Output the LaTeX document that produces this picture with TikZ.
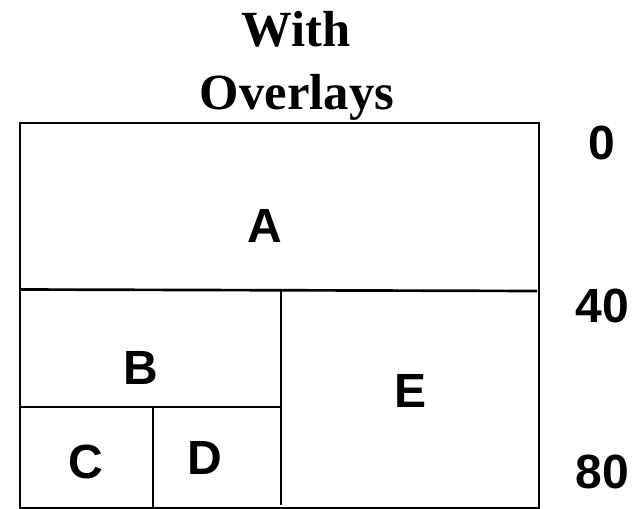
\documentclass[tikz,border=0pt]{standalone}
\usepackage{fontspec}
\setmainfont{Liberation Serif}
\setsansfont{Liberation Sans}
\usetikzlibrary{positioning}

\begin{document}
\begin{tikzpicture}[
  x=0.75pt, y=-0.75pt,
  title/.style={font=\bfseries\fontsize{38}{44}\selectfont, inner sep=0pt, anchor=base},
  part/.style={font=\sffamily\bfseries\fontsize{36}{40}\selectfont, inner sep=0pt},
  rowlabel/.style={font=\sffamily\bfseries\fontsize{36}{40}\selectfont, inner sep=0pt},
  divider/.style={line width=2pt}
]
  \useasboundingbox (0,0) rectangle (641,509);

  % Title
  \node[title] (with) at (296,47) {With};
  \node[title] (overlays) at (297,110) {Overlays};

  % Frame
  \coordinate (nw) at (20,123);
  \coordinate (se) at (539,508);
  \draw[divider] (nw) rectangle (se);

  % Dividers
  \coordinate (ab-w) at (20,289.5);
  \coordinate (ab-e) at (537,291);
  \coordinate (be-n) at (281,291);
  \coordinate (be-s) at (281,505);
  \coordinate (bc-w) at (20,407);
  \coordinate (bc-e) at (281,407);
  \coordinate (cd-n) at (153,407);
  \coordinate (cd-s) at (153,508);
  \draw[divider] (ab-w) -- (ab-e);
  \draw[divider] (be-n) -- (be-s);
  \draw[divider] (bc-w) -- (bc-e);
  \draw[divider] (cd-n) -- (cd-s);

  % Parts
  \node[part] (A) at (265,226) {A};
  \node[part] (B) at (141,368) {B};
  \node[part] (C) at (86,462) {C};
  \node[part] (D) at (205,458) {D};
  \node[part] (E) at (410,391) {E};

  % Offsets
  \node[rowlabel] (r0) at (602,143) {0};
  \node[rowlabel] (r40) at (602,306) {40};
  \node[rowlabel] (r80) at (602,472) {80};
\end{tikzpicture}
\end{document}
